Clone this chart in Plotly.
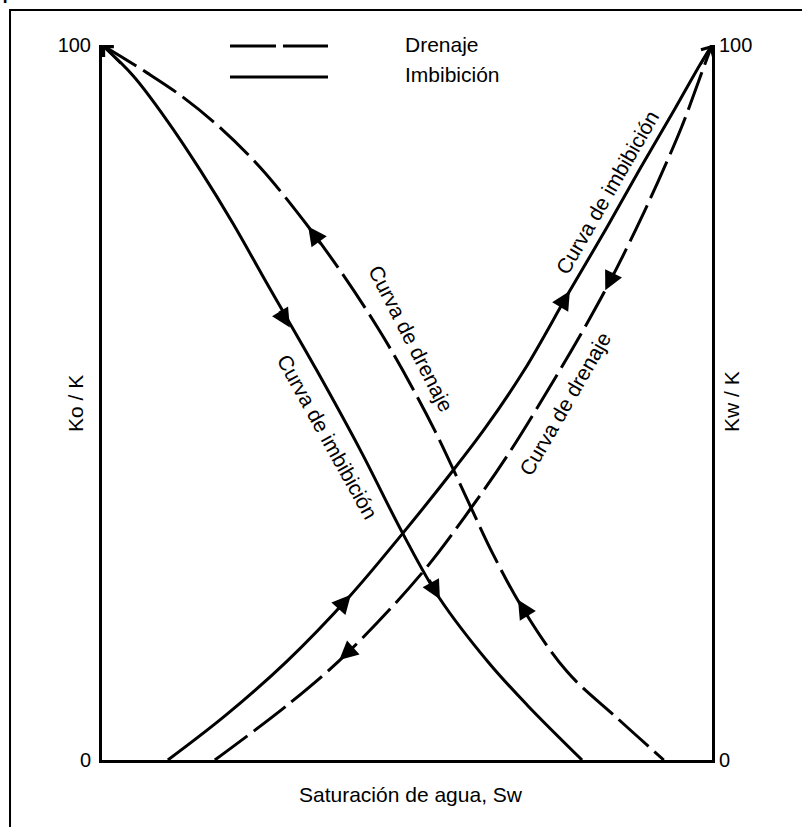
import plotly.graph_objects as go

# ---- data ----
sw_ko_imb = [0, 0.051, 0.107, 0.161, 0.215, 0.270, 0.352, 0.425, 0.493, 0.552, 0.634, 0.698, 0.787]
ko_imb = [100, 95.7, 89.4, 82.5, 75.0, 66.7, 54.5, 43.1, 31.7, 22.8, 13.6, 7.6, 0]

sw_ko_dr = [0, 0.074, 0.128, 0.193, 0.259, 0.330, 0.390, 0.451, 0.493, 0.546, 0.600, 0.641, 0.689, 0.762, 0.844, 0.921]
ko_dr = [100, 96.1, 93.0, 88.5, 82.9, 75.5, 68.5, 60.6, 54.5, 46.0, 36.2, 28.8, 21.3, 12.4, 5.9, 0]

sw_kw_imb = [0.108, 0.202, 0.303, 0.405, 0.493, 0.570, 0.628, 0.692, 0.764, 0.825, 0.882, 0.934, 0.980, 1.0]
kw_imb = [0, 6.2, 13.8, 22.8, 31.7, 39.9, 46.4, 54.5, 65.2, 74.1, 82.7, 90.3, 97.2, 100]

sw_kw_dr = [0.185, 0.310, 0.405, 0.526, 0.603, 0.667, 0.749, 0.792, 0.833, 0.874, 0.911, 0.951, 0.980, 1.0]
kw_dr = [0, 8.1, 15.2, 26.3, 35.0, 42.9, 54.3, 60.6, 67.0, 74.0, 80.8, 88.7, 95.4, 100]

# direction arrows on the curves: (tip_x, tip_y, tail_x, tail_y)
arrow_tips_x = [0.308, 0.554, 0.338, 0.682, 0.408, 0.767, 0.389, 0.825]
arrow_tips_y = [60.5, 22.5, 74.6, 22.4, 23.1, 65.6, 14.0, 65.7]
arrow_tails_x = [0.290, 0.535, 0.360, 0.700, 0.385, 0.750, 0.410, 0.840]
arrow_tails_y = [63.0, 25.4, 72.0, 19.9, 20.9, 63.2, 15.6, 68.3]

tick_vals = [0, 100]
tick_text = ["0", "100"]

curve_labels = ["Curva de imbibición", "Curva de drenaje", "Curva de imbibición", "Curva de drenaje"]
label_x = [0.369, 0.507, 0.828, 0.759]
label_y = [45.2, 59.0, 79.4, 49.9]
label_angle = [61, 63, -60, -60]

legend_names = ["Drenaje", "Imbibición"]

FONT = "Arial, Liberation Sans, sans-serif"
DASH = "40px,8px"
FS = 21

fig = go.Figure()
fig.add_trace(go.Scatter(x=sw_ko_imb, y=ko_imb, mode="lines", line=dict(color="black", width=3, shape="spline", smoothing=1.0), yaxis="y"))
fig.add_trace(go.Scatter(x=sw_ko_dr, y=ko_dr, mode="lines", line=dict(color="black", width=3, dash=DASH, shape="spline", smoothing=1.0), yaxis="y"))
fig.add_trace(go.Scatter(x=sw_kw_imb, y=kw_imb, mode="lines", line=dict(color="black", width=3, shape="spline", smoothing=1.0), yaxis="y2"))
fig.add_trace(go.Scatter(x=sw_kw_dr, y=kw_dr, mode="lines", line=dict(color="black", width=3, dash=DASH, shape="spline", smoothing=1.0), yaxis="y2"))

annotations = []
for tx, ty, sx, sy in zip(arrow_tips_x, arrow_tips_y, arrow_tails_x, arrow_tails_y):
    annotations.append(dict(x=tx, y=ty, ax=sx, ay=sy, xref="x", yref="y", axref="x", ayref="y",
                            text="", showarrow=True, arrowhead=2, arrowsize=1.25, arrowwidth=3,
                            arrowcolor="black", standoff=0, startstandoff=0))
# open arrowheads at the top corners (tails laid along the solid curves)
annotations.append(dict(x=0, y=100, xref="x", yref="y", ax=20, ay=20, text="", showarrow=True,
                        arrowhead=4, arrowsize=1.4, arrowwidth=2, arrowcolor="black"))
annotations.append(dict(x=1, y=100, xref="x", yref="y", ax=-12, ay=21, text="", showarrow=True,
                        arrowhead=4, arrowsize=1.4, arrowwidth=2, arrowcolor="black"))

for t, x, y, a in zip(curve_labels, label_x, label_y, label_angle):
    annotations.append(dict(x=x, y=y, xref="x", yref="y", text=t, textangle=a, showarrow=False,
                            xanchor="center", yanchor="middle",
                            font=dict(family=FONT, size=FS, color="black")))

# axis titles
annotations.append(dict(x=-0.0443, y=0.4993, xref="paper", yref="paper", text="Ko / K", textangle=-90,
                        xanchor="center", yanchor="middle",
                        showarrow=False, font=dict(family=FONT, size=FS, color="black")))
annotations.append(dict(x=1.0328, y=0.5007, xref="paper", yref="paper", text="Kw / K", textangle=-90,
                        xanchor="center", yanchor="middle",
                        showarrow=False, font=dict(family=FONT, size=FS, color="black")))
annotations.append(dict(x=0.5066, y=-0.0476, xref="paper", yref="paper", text="Saturación de agua, Sw",
                        xanchor="center", yanchor="middle",
                        showarrow=False, font=dict(family=FONT, size=FS, color="black")))

# legend text
annotations.append(dict(x=0.4934, y=1.0007, xref="paper", yref="paper", text=legend_names[0],
                        xanchor="left", yanchor="middle",
                        showarrow=False, font=dict(family=FONT, size=FS, color="black")))
annotations.append(dict(x=0.4934, y=0.9587, xref="paper", yref="paper", text=legend_names[1],
                        xanchor="left", yanchor="middle",
                        showarrow=False, font=dict(family=FONT, size=FS, color="black")))

# cropped caption at the very top (only its lower edge is visible in the reference)
annotations.append(dict(x=-0.1672, y=1.056, xref="paper", yref="paper", text="permeabilidad relativa",
                        xanchor="left", yanchor="bottom", showarrow=False,
                        font=dict(family=FONT, size=28, color="black")))

shapes = [
    dict(type="line", xref="paper", yref="paper", x0=0.2098, x1=0.3705, y0=0.9986, y1=0.9986,
         line=dict(color="black", width=3, dash="46px,7px")),
    dict(type="line", xref="paper", yref="paper", x0=0.2098, x1=0.3705, y0=0.9552, y1=0.9552,
         line=dict(color="black", width=3)),
    dict(type="rect", xref="paper", yref="paper", x0=-0.1508, x1=1.16, y0=-0.12, y1=1.049,
         line=dict(color="black", width=2)),
]

axis_common = dict(range=[0, 100], showgrid=False, zeroline=False, showline=True, linecolor="black",
                   linewidth=3, tickvals=tick_vals, ticktext=tick_text, ticks="",
                   tickfont=dict(family=FONT, size=20, color="black"), fixedrange=True)

fig.update_layout(
    width=802, height=827,
    margin=dict(l=102, r=90, t=45, b=67),
    paper_bgcolor="white", plot_bgcolor="white",
    showlegend=False,
    xaxis=dict(range=[0, 1], showgrid=False, zeroline=False, showline=True, linecolor="black",
               linewidth=3, showticklabels=False, ticks=""),
    yaxis=dict(**axis_common, side="left", ticklabelstandoff=4),
    yaxis2=dict(**axis_common, side="right", overlaying="y", ticklabelstandoff=0),
    annotations=annotations,
    shapes=shapes,
)

fig.write_html("out.html")
